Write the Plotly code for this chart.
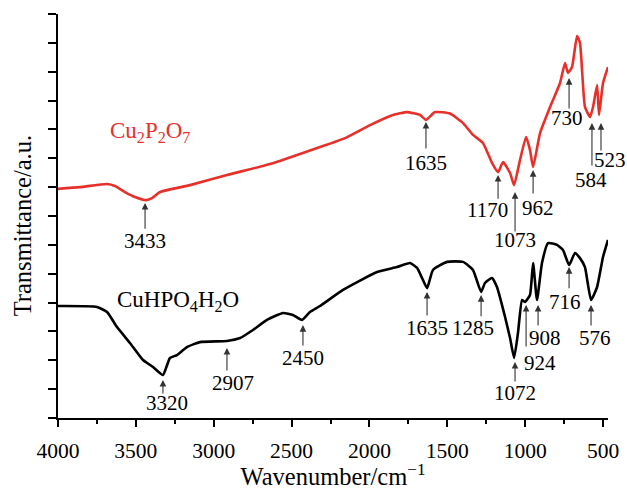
import plotly.graph_objects as go

# ---------------- data ----------------
wn_cu2p2o7 = [4000, 3859, 3685, 3634, 3570, 3506, 3433, 3396, 3345, 3152, 2915, 2638,
              2317, 2157, 1996, 1849, 1759, 1675, 1637, 1579, 1483, 1399, 1335, 1271,
              1213, 1174, 1142, 1097, 1071, 1033, 994, 969, 949, 904, 840, 776, 744,
              725, 699, 667, 648, 616, 583, 564, 538, 526, 500, 468]
t_cu2p2o7 = [7.94, 8.00, 8.11, 8.04, 7.83, 7.66, 7.55, 7.62, 7.83, 8.07, 8.42, 8.80,
             9.39, 9.70, 10.15, 10.50, 10.60, 10.50, 10.33, 10.60, 10.55, 10.22, 9.81, 9.53,
             8.84, 8.52, 8.87, 8.49, 8.07, 8.94, 9.74, 9.29, 8.70, 9.88, 10.78, 11.61, 12.30,
             11.96, 12.16, 13.24, 13.00, 10.78, 10.43, 10.78, 11.54, 10.50, 11.61, 12.16]

wn_cuhpo4 = [4000, 3750, 3685, 3621, 3538, 3454, 3390, 3326, 3281, 3236, 3172, 3088,
             2915, 2831, 2748, 2658, 2555, 2491, 2433, 2382, 2317, 2170, 1951, 1823,
             1739, 1694, 1662, 1630, 1592, 1502, 1399, 1335, 1283, 1258, 1213, 1181,
             1129, 1097, 1071, 1046, 1020, 1001, 969, 949, 924, 892, 853, 795, 757,
             718, 680, 648, 616, 577, 538, 500, 468]
t_cuhpo4 = [3.88, 3.85, 3.67, 3.15, 2.60, 2.01, 1.77, 1.49, 2.08, 2.18, 2.46, 2.63,
            2.67, 2.77, 3.05, 3.40, 3.64, 3.57, 3.40, 3.67, 3.88, 4.44, 5.06, 5.23,
            5.37, 5.20, 4.85, 4.50, 5.13, 5.41, 5.41, 5.13, 4.37, 4.68, 4.85, 4.54,
            3.50, 2.77, 2.08, 2.95, 4.09, 4.02, 4.26, 5.37, 4.09, 5.37, 6.06, 6.00, 5.82,
            5.30, 5.72, 5.54, 5.23, 4.09, 4.54, 5.58, 6.17]

x_tick_vals = [4000, 3500, 3000, 2500, 2000, 1500, 1000, 500]
x_tick_text = ["4000", "3500", "3000", "2500", "2000", "1500", "1000", "500"]

# peak labels: (text, arrow x, arrow tip y, arrow tail y, label x, label y, label x-shift px)
peaks_red = [
    ("3433", 3441, 7.45, 6.51, 3441, 6.13, 0),
    ("1635", 1637, 10.26, 9.29, 1637, 8.84, 0),
    ("1170", 1174, 8.42, 7.55, 1245, 7.21, 0),
    ("1073", 1065, 7.83, 6.41, 1065, 6.17, 0),
    ("962", 949, 8.59, 7.73, 917, 7.28, 0),
    ("730", 718, 11.78, 10.67, 731, 10.40, 0),
    ("584", 571, 10.22, 8.70, 577, 8.25, 0),
    ("523", 513, 10.22, 9.22, 513, 8.94, 9),
]
peaks_black = [
    ("3320", 3326, 1.32, 0.80, 3300, 0.52, 0),
    ("2907", 2915, 2.43, 1.59, 2876, 1.21, 0),
    ("2450", 2427, 3.22, 2.46, 2427, 2.08, 0),
    ("1635", 1630, 4.37, 3.50, 1630, 3.12, 0),
    ("1285", 1283, 4.26, 3.47, 1335, 3.12, 0),
    ("1072", 1065, 1.94, 1.21, 1065, 0.87, 0),
    ("924", 994, 3.92, 2.43, 904, 1.91, 0),
    ("908", 917, 3.92, 3.15, 872, 2.77, 0),
    ("716", 718, 5.23, 4.44, 744, 4.02, 0),
    ("576", 577, 3.92, 3.15, 551, 2.77, 0),
]

RED = "#e8302a"
FONT = "Liberation Serif"

fig = go.Figure()
fig.add_trace(go.Scatter(x=wn_cu2p2o7, y=t_cu2p2o7, mode="lines",
                         line=dict(color=RED, width=2.6, shape="spline", smoothing=0.45),
                         showlegend=False, hoverinfo="skip"))
fig.add_trace(go.Scatter(x=wn_cuhpo4, y=t_cuhpo4, mode="lines",
                         line=dict(color="black", width=2.6, shape="spline", smoothing=0.45),
                         showlegend=False, hoverinfo="skip"))

annotations = []
for (txt, ax_, tip, tail, lx, ly, sh) in peaks_red + peaks_black:
    annotations.append(dict(x=ax_, y=tip, ax=ax_, ay=tail, xref="x", yref="y",
                            axref="x", ayref="y", text="", showarrow=True,
                            arrowhead=2, arrowsize=1.2, arrowwidth=1.1,
                            arrowcolor="#333333", standoff=0, startstandoff=0))
    annotations.append(dict(x=lx, y=ly, xref="x", yref="y", text=txt, showarrow=False,
                            xshift=sh,
                            font=dict(family=FONT, size=21, color="black"),
                            xanchor="center", yanchor="middle"))

annotations.append(dict(x=3410, y=9.92, xref="x", yref="y",
                        text="Cu<sub>2</sub>P<sub>2</sub>O<sub>7</sub>", showarrow=False,
                        font=dict(family=FONT, size=23, color=RED),
                        xanchor="center", yanchor="middle"))
annotations.append(dict(x=3229, y=4.05, xref="x", yref="y",
                        text="CuHPO<sub>4</sub>H<sub>2</sub>O", showarrow=False,
                        font=dict(family=FONT, size=23, color="black"),
                        xanchor="center", yanchor="middle"))
# y axis title
annotations.append(dict(x=-0.065, y=0.475, xref="paper", yref="paper",
                        text="Transmittance/a.u.", showarrow=False, textangle=-90,
                        font=dict(family=FONT, size=24.5, color="black"),
                        xanchor="center", yanchor="middle"))

fig.update_layout(
    width=627, height=490,
    margin=dict(l=58, r=19, t=14, b=72, autoexpand=False),
    paper_bgcolor="white", plot_bgcolor="white",
    font=dict(family=FONT, size=21, color="black"),
    annotations=annotations,
    xaxis=dict(range=[4000, 468], tickvals=x_tick_vals, ticktext=x_tick_text,
               ticks="outside", ticklen=7, tickwidth=2, tickcolor="black",
               showline=True, linewidth=2, linecolor="black", showgrid=False,
               zeroline=False, tickfont=dict(family=FONT, size=21.5),
               ticklabelstandoff=5, automargin=False,
               minor=dict(dtick=250, tick0=500, ticks="outside", ticklen=4,
                          tickwidth=2, tickcolor="black", showgrid=False),
               title=dict(text="Wavenumber/cm<sup>\u22121</sup>",
                          font=dict(family=FONT, size=24.5), standoff=9)),
    yaxis=dict(range=[0, 14], dtick=1, tick0=0, ticks="outside", ticklen=8,
               tickwidth=2, tickcolor="black", showticklabels=False,
               showline=True, linewidth=2, linecolor="black", showgrid=False,
               zeroline=False, automargin=False),
)

fig.write_html("out.html")
